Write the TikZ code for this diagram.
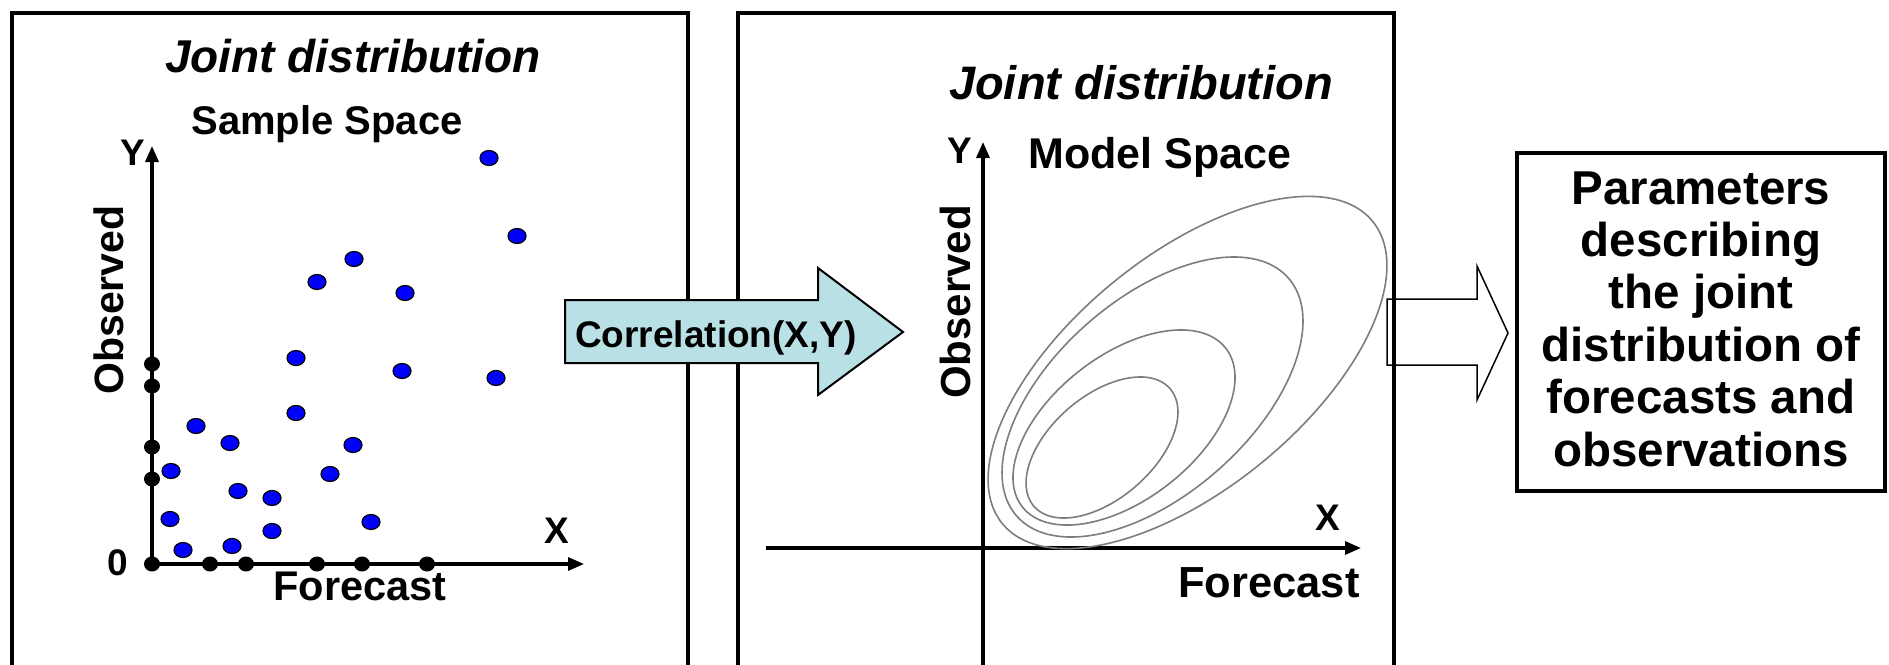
\documentclass[tikz,border=0pt]{standalone}
\usepackage{fontspec}
\setmainfont{Liberation Sans}
\usetikzlibrary{arrows.meta}
\definecolor{corrfill}{RGB}{185,224,228}
\definecolor{dotblue}{RGB}{0,0,255}
\definecolor{contourgray}{RGB}{125,125,125}
\newcommand\pxfont[1]{\fontsize{#1}{#1}\selectfont}

\begin{document}
\begin{tikzpicture}[x=1pt,y=-1pt,
  panel/.style={line width=4pt},
  axis/.style={line width=3.2pt,-{Triangle[length=16pt,width=13pt]}},
  txt/.style={anchor=base,inner sep=0pt,font=\bfseries\pxfont{#1}},
  ttl/.style={anchor=base,inner sep=0pt,font=\bfseries\itshape\pxfont{#1}},
  sidelbl/.style={anchor=base,inner sep=0pt,rotate=90,font=\bfseries\pxfont{#1}},
  bdot/.style={fill=dotblue,draw=black,line width=1.2pt},
  kdot/.style={fill=black},
  contour/.style={draw=contourgray,line width=1.6pt},
  blockarrow/.style={draw=black,line join=miter}
]
\useasboundingbox (0,0) rectangle (1889,664);
\fill[white] (0,0) rectangle (1889,664);

% output arrow towards the parameter box (behind the panel frame)
\draw[blockarrow,fill=white,line width=1.5pt]
  (1387,299) -- (1477,299) -- (1477,266) -- (1508,333) -- (1477,400)
  -- (1477,365) -- (1387,365) -- cycle;

% panel frames, open at the bottom
\draw[panel] (12,680) -- (12,13) -- (688,13) -- (688,680);
\draw[panel] (738,680) -- (738,13) -- (1394,13) -- (1394,680);

% ---------- sample space ----------
\coordinate (lo) at (152,564);
\coordinate (ly) at (152,146);
\coordinate (lx) at (584,564);
\draw[axis] (lo) -- (ly);
\draw[axis] (lo) -- (lx);

\node[ttl=46] (ljt) at (353,72) {Joint distribution};
\node[txt=40] (lss) at (327,134) {Sample Space};
\node[txt=37] (lyl) at (133,165) {Y};
\node[sidelbl=41] (lobs) at (123,300) {Observed};
\node[txt=37] (lzero) at (118,575) {0};
\node[txt=37] (lxl) at (557,543) {X};
\node[txt=41.5] (lfc) at (360,600) {Forecast};

% points on the axes
\foreach \yy in {364,386,447,479,564}
  \fill[kdot] (152,\yy) ellipse [x radius=8, y radius=7.5];
\foreach \xx in {210,246,317,362,427}
  \fill[kdot] (\xx,564) ellipse [x radius=8, y radius=7.5];

% sample pairs
\foreach \xx/\yy in {489/158,517/236,354/259,317/282,405/293,296/358,402/371,
  496/378,296/413,196/426,230/443,353/445,171/471,330/474,238/491,272/498,
  170/519,371/522,272/531,183/550,232/546}
  \path[bdot] (\xx,\yy) ellipse [x radius=9, y radius=7.5];

% ---------- model space ----------
\coordinate (mybot) at (983,680);
\coordinate (my) at (983,142);
\coordinate (mxl) at (766,548);
\coordinate (mx) at (1361,548);
\draw[axis] (mybot) -- (my);
\draw[axis] (mxl) -- (mx);

% density contours: tilted ellipses (centre, angle, semi-axes)
\foreach \cx/\cy/\ang/\ra/\rb in {1187.5/372.5/39.2/239/116.8,
  1152.5/397/41.2/180.6/98.1, 1124/427.5/37.9/129/72.1, 1102/447.5/40.8/90/51.4}
  \draw[contour,rotate around={\ang:(\cx,\cy)}]
    (\cx,\cy) ellipse [x radius=\ra, y radius=\rb];

\node[ttl=47] (mjt) at (1141,99) {Joint distribution};
\node[txt=43] (mms) at (1160,168) {Model Space};
\node[txt=37] (myl) at (960,163) {Y};
\node[sidelbl=42] (mobs) at (970,302) {Observed};
\node[txt=37] (mxlbl) at (1328,530) {X};
\node[txt=43.5] (mfc) at (1269,597) {Forecast};

% ---------- correlation arrow ----------
\draw[blockarrow,fill=corrfill,line width=2pt]
  (565,300) -- (818,300) -- (818,268) -- (903,332) -- (818,395)
  -- (818,363) -- (565,363) -- cycle;
\node[txt=37] (corr) at (716,347) {Correlation(X,Y)};

% ---------- parameter box ----------
\node[draw,line width=4pt,minimum width=368pt,minimum height=338pt,inner sep=0pt]
  (params) at (1701,322) {};
\node[align=center,inner sep=0pt,font=\bfseries\fontsize{47.5}{52.4}\selectfont]
  (paramtext) at (1701,319)
  {Parameters\\describing\\the joint\\distribution of\\forecasts and\\observations};
\end{tikzpicture}
\end{document}
